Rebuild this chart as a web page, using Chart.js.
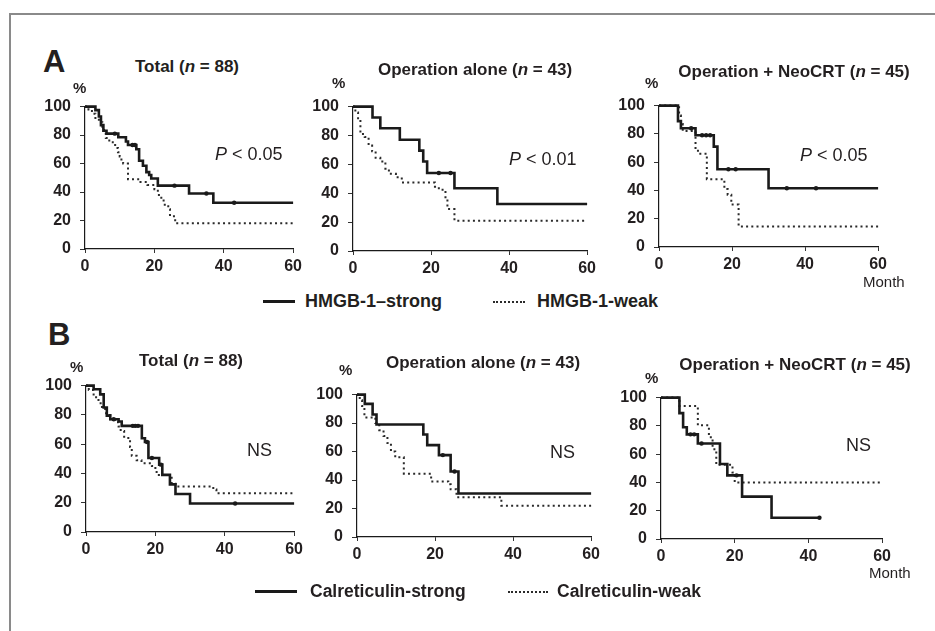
<!DOCTYPE html>
<html>
<head>
<meta charset="utf-8">
<script src="https://cdn.jsdelivr.net/npm/chart.js@4"></script>
<style>
  html, body { margin: 0; padding: 0; background: #fff; }
  body { width: 935px; height: 631px; position: relative; overflow: hidden;
         font-family: "Liberation Sans", Arial, Helvetica, sans-serif; color: #231f20; }
  .frame { position: absolute; left: 9px; top: 13px; right: -5px; bottom: -5px;
           border-top: 2px solid #8a8a8a; border-left: 2px solid #8a8a8a; }
  .lbl { position: absolute; white-space: nowrap; line-height: 1; }
  canvas { position: absolute; }
  .leg { position: absolute; height: 0; }
</style>
</head>
<body>
<div class="frame"></div>
<script>
// ---------- DATA ----------
const monthTicks = [0, 20, 40, 60];
const percentTicks = [0, 20, 40, 60, 80, 100];
const panelTitles = ['Total', 'Operation alone', 'Operation + NeoCRT'];
const panelN = [88, 43, 45];
const hmgbPValues = ['0.05', '0.01', '0.05'];
const calrPValues = ['NS', 'NS', 'NS'];
const hmgbSeriesNames = ['HMGB-1\u2013strong', 'HMGB-1-weak'];
const calrSeriesNames = ['Calreticulin-strong', 'Calreticulin-weak'];

// A: HMGB-1, Total
const hmgbTotalStrongMonth = [0, 3, 4, 4.6, 5.3, 6.2, 9.6, 11.8, 12.4, 14.8, 15.6, 16.7, 17.7, 18.5, 19.1, 21, 30, 37, 60];
const hmgbTotalStrongPct   = [100, 97.5, 93, 87, 83, 81, 78.5, 75.5, 73, 70, 62, 58.5, 54, 52, 49.5, 44.5, 39, 32.5, 32.5];
const hmgbTotalStrongCensor = [8.6, 13.7, 14.4, 25.8, 35, 43];
const hmgbTotalWeakMonth = [0, 1, 2, 3, 4, 5, 5.5, 6, 7, 8, 9, 9.5, 10, 10.5, 11, 12.4, 16, 18, 20, 21, 22, 23, 24, 24.5, 26, 60];
const hmgbTotalWeakPct   = [100, 98, 95, 92, 89, 85, 81, 78, 75, 73, 71, 68, 65, 62, 60, 49, 47, 45, 42, 38, 34, 30, 28, 23, 18, 18];

// A: HMGB-1, Operation alone
const hmgbOpStrongMonth = [0, 5, 7, 12, 17, 18, 19, 26, 37, 60];
const hmgbOpStrongPct   = [100, 92.5, 85, 77, 69.5, 62, 54, 43.5, 32.5, 32.5];
const hmgbOpStrongCensor = [22, 25];
const hmgbOpWeakMonth = [0, 0.6, 1.3, 1.9, 3, 4, 4.9, 5.8, 7, 8.3, 9.2, 11, 12.5, 21, 22, 23.7, 24.2, 26, 60];
const hmgbOpWeakPct   = [100, 96, 92, 81, 79, 73, 69, 64.5, 62, 57, 53.5, 51, 47.5, 44.5, 42.5, 36, 29, 21, 21];

// A: HMGB-1, Operation + NeoCRT
const hmgbCrtStrongMonth = [0, 5.2, 6, 10, 15, 16, 30, 60];
const hmgbCrtStrongPct   = [100, 89, 84, 79, 71, 55, 41.5, 41.5];
const hmgbCrtStrongCensor = [8.8, 11.8, 12.9, 14, 19, 21, 35, 43];
const hmgbCrtWeakMonth = [0, 5.5, 6, 6.5, 10, 11, 13.1, 17.9, 18.8, 19.8, 21.8, 60];
const hmgbCrtWeakPct   = [100, 93, 87, 82, 68, 66, 48, 41, 37, 30, 14.5, 14.5];

// B: Calreticulin, Total
const calrTotalStrongMonth = [0, 2.2, 4.1, 5.1, 6, 7, 9.4, 10.3, 16.1, 17, 18, 21.1, 22, 24.2, 25.8, 30, 60];
const calrTotalStrongPct   = [100, 97.5, 94, 85, 79.5, 77, 75.5, 72.5, 64, 61.5, 50.5, 46, 39, 32.5, 26, 19.5, 19.5];
const calrTotalStrongCensor = [8, 13.5, 14.2, 15, 17.6, 19, 21.6, 43];
const calrTotalWeakMonth = [0, 0.8, 2.2, 3.6, 4.6, 5.8, 7, 8.4, 9.4, 10, 11, 12.2, 12.7, 13.2, 14.6, 16, 19, 20, 21, 24.7, 25.8, 36.7, 37.6, 60];
const calrTotalWeakPct   = [100, 97, 92, 88, 84, 80, 77, 75, 72, 69, 65, 63, 58, 52, 49, 47, 45, 41, 39, 33, 31, 29, 26.5, 26.5];

// B: Calreticulin, Operation alone
const calrOpStrongMonth = [0, 2, 4, 5, 17, 18, 21, 24, 26, 60];
const calrOpStrongPct   = [100, 93.5, 86, 79, 72, 64.5, 57.5, 46, 30.5, 30.5];
const calrOpStrongCensor = [22, 25];
const calrOpWeakMonth = [0, 0.7, 1.3, 1.9, 4.7, 5.7, 6.8, 7.8, 8.7, 9.8, 12, 19, 23.4, 24, 25.5, 37, 60];
const calrOpWeakPct   = [100, 96, 92, 84, 80, 75, 71, 66, 60, 56, 44.5, 39, 37, 33.5, 28, 22, 22];

// B: Calreticulin, Operation + NeoCRT
const calrCrtStrongMonth = [0, 5, 6, 7, 10, 16, 18, 22, 30, 43];
const calrCrtStrongPct   = [100, 89, 79, 74, 67.5, 53, 45, 30, 15, 15];
const calrCrtStrongCensor = [8, 9, 11, 20.5, 43];
const calrCrtWeakMonth = [0, 5, 10, 13, 14, 15, 19.4, 20, 60];
const calrCrtWeakPct   = [100, 94, 80.5, 72, 63.5, 52.5, 47, 40, 40];

// ---------- LAYOUT ----------
const FONT = '"Liberation Sans", Arial, Helvetica, sans-serif';
const INK = '#231f20';

function put(html, x, base, size, opts = {}) {
  const d = document.createElement('div');
  d.className = 'lbl';
  d.innerHTML = html;
  d.style.fontSize = size + 'px';
  d.style.fontWeight = opts.bold ? 'bold' : 'normal';
  d.style.left = x + 'px';
  d.style.top = (base - 0.8465 * size) + 'px';
  if (opts.center) d.style.transform = 'translateX(-50%)';
  document.body.appendChild(d);
}
function legLine(x, y, w, dotted) {
  const d = document.createElement('div');
  d.className = 'leg';
  d.style.left = x + 'px';
  d.style.top = y + 'px';
  d.style.width = w + 'px';
  d.style.borderTop = dotted ? '2px dotted #2a2a2a' : '3px solid #1a1a1a';
  document.body.appendChild(d);
}
function toPts(months, pcts) { return months.map((m, i) => ({ x: m, y: pcts[i] })); }
function censorPts(cens, months, pcts) {
  return cens.map(c => {
    let v = pcts[0];
    for (let i = 0; i < months.length; i++) if (months[i] <= c) v = pcts[i];
    return { x: c, y: v };
  });
}

const panels = [
  { rect: [85, 100, 294, 249], s: [hmgbTotalStrongMonth, hmgbTotalStrongPct, hmgbTotalStrongCensor], w: [hmgbTotalWeakMonth, hmgbTotalWeakPct] },
  { rect: [353, 100, 588, 251], s: [hmgbOpStrongMonth, hmgbOpStrongPct, hmgbOpStrongCensor], w: [hmgbOpWeakMonth, hmgbOpWeakPct] },
  { rect: [659, 99, 879, 247], s: [hmgbCrtStrongMonth, hmgbCrtStrongPct, hmgbCrtStrongCensor], w: [hmgbCrtWeakMonth, hmgbCrtWeakPct] },
  { rect: [86, 379, 295, 532], s: [calrTotalStrongMonth, calrTotalStrongPct, calrTotalStrongCensor], w: [calrTotalWeakMonth, calrTotalWeakPct] },
  { rect: [357, 388, 592, 537], s: [calrOpStrongMonth, calrOpStrongPct, calrOpStrongCensor], w: [calrOpWeakMonth, calrOpWeakPct] },
  { rect: [661, 391, 883, 539], s: [calrCrtStrongMonth, calrCrtStrongPct, calrCrtStrongCensor], w: [calrCrtWeakMonth, calrCrtWeakPct] }
];

const PADL = 60, PADT = 12, PADR = 12, PADB = 32;

panels.forEach((p) => {
  const [L, T, R, B] = p.rect;
  const cv = document.createElement('canvas');
  const W = (R - L) + PADL + PADR, H = (B - T) + PADT + PADB;
  cv.width = W; cv.height = H;
  cv.style.left = (L - PADL) + 'px';
  cv.style.top = (T - PADT) + 'px';
  cv.style.width = W + 'px'; cv.style.height = H + 'px';
  document.body.appendChild(cv);

  new Chart(cv.getContext('2d'), {
    type: 'line',
    data: {
      datasets: [
        { data: toPts(p.w[0], p.w[1]), stepped: 'before', borderColor: '#2a2a2a', borderWidth: 2,
          borderDash: [2, 3.2], pointRadius: 0, fill: false, clip: false, order: 2 },
        { data: toPts(p.s[0], p.s[1]), stepped: 'before', borderColor: '#1a1a1a', borderWidth: 2.6,
          pointRadius: 0, fill: false, clip: false, order: 1 },
        { data: censorPts(p.s[2], p.s[0], p.s[1]), showLine: false, pointRadius: 2.2,
          pointStyle: 'circle', pointBackgroundColor: '#1a1a1a', pointBorderColor: '#1a1a1a',
          pointBorderWidth: 0, clip: false, order: 0 }
      ]
    },
    options: {
      responsive: false,
      animation: false,
      events: [],
      layout: { padding: { top: PADT, right: PADR, left: 0, bottom: 0 } },
      plugins: { legend: { display: false }, tooltip: { enabled: false } },
      scales: {
        x: {
          type: 'linear', min: 0, max: 60,
          afterBuildTicks: (s) => { s.ticks = monthTicks.map(v => ({ value: v })); },
          afterFit: (s) => { s.height = PADB; },
          ticks: { color: INK, padding: 4, font: { family: FONT, size: 16, weight: 'bold' } },
          grid: { drawOnChartArea: false, drawTicks: true, tickLength: 4, color: '#333', lineWidth: 1 },
          border: { display: true, color: '#1a1a1a', width: 1.2 }
        },
        y: {
          type: 'linear', min: 0, max: 100,
          afterBuildTicks: (s) => { s.ticks = percentTicks.map(v => ({ value: v })); },
          afterFit: (s) => { s.width = PADL; },
          ticks: { color: INK, padding: 9, font: { family: FONT, size: 16, weight: 'bold' } },
          grid: { drawOnChartArea: false, drawTicks: true, tickLength: 5, color: '#333', lineWidth: 1 },
          border: { display: true, color: '#1a1a1a', width: 1.2 }
        }
      }
    }
  });
});

// ---------- TEXT ----------
put('A', 43, 72, 31, { bold: true });
put('B', 48, 345, 31, { bold: true });

const titleSpots = [[187, 72], [475, 75], [794, 77], [191, 366.5], [483, 368], [795, 370]];
titleSpots.forEach((t, i) => {
  const k = i % 3;
  put(panelTitles[k] + ' (<i>n</i> = ' + panelN[k] + ')', t[0], t[1], 17, { bold: true, center: true });
});

const pctSpots = [[73, 93], [332, 88], [645, 88], [70, 372], [339, 375], [645, 383]];
pctSpots.forEach(t => put('%', t[0], t[1], 15, { bold: true }));

const pSpots = [[215, 160], [509, 165], [800, 161.5]];
pSpots.forEach((t, i) => put('<i>P</i> &lt; ' + hmgbPValues[i], t[0], t[1], 18));
const nsSpots = [[247, 456.5], [550, 458], [846, 451.5]];
nsSpots.forEach((t, i) => put(calrPValues[i], t[0], t[1], 18));

put('Month', 863, 286.5, 15);
put('Month', 869, 578, 15);

legLine(263, 300, 32, false);
put(hmgbSeriesNames[0], 305, 307, 18, { bold: true });
legLine(493, 301, 32, true);
put(hmgbSeriesNames[1], 537, 307, 18, { bold: true });

legLine(255, 590, 42, false);
put(calrSeriesNames[0], 310, 598, 17.5, { bold: true });
legLine(508, 591, 40, true);
put(calrSeriesNames[1], 557, 598, 17.5, { bold: true });
</script>
</body>
</html>
